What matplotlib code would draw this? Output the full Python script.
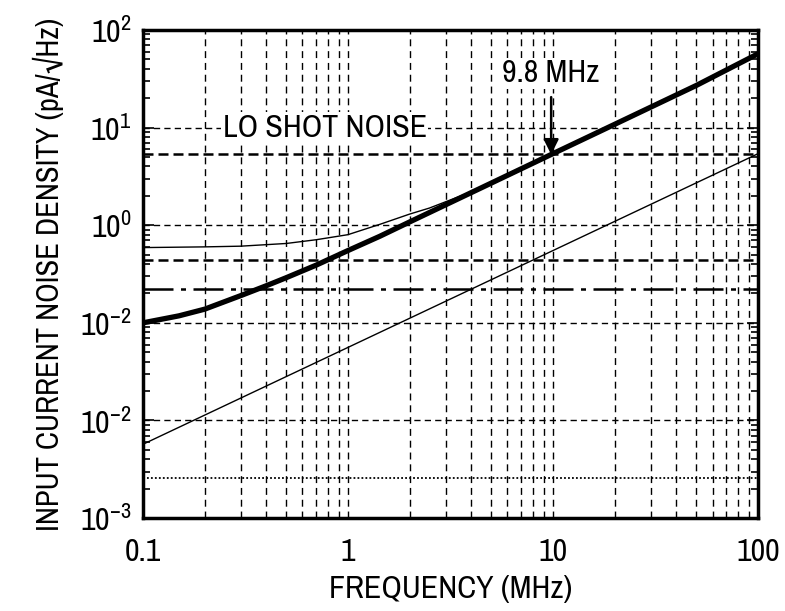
import matplotlib
matplotlib.use("Agg")
import matplotlib.pyplot as plt
from matplotlib.ticker import FixedLocator, LogLocator, NullFormatter, FixedFormatter
import numpy as np

# ---- data ----
freq_total = [0.1, 0.15, 0.2, 0.3, 0.4, 0.5, 0.7, 1.0, 1.43, 2.0, 5.0, 9.8, 20, 50, 100]
noise_total = [0.100, 0.118, 0.138, 0.19, 0.24, 0.29, 0.39, 0.55, 0.77, 1.08, 2.7, 5.3, 10.8, 27, 57]

freq_upper = [0.1, 0.2, 0.3, 0.5, 0.7, 1.0, 1.43, 2.0, 2.5, 3.0, 4.0]
noise_upper = [0.59, 0.60, 0.61, 0.65, 0.71, 0.80, 1.02, 1.30, 1.50, 1.74, 2.2]

freq_lower = [0.1, 1.0, 10, 100]
noise_lower = [0.0057, 0.056, 0.55, 5.4]

lo_shot_noise = 5.3
level_dashed = 0.44
level_dashdot = 0.22
level_dotted = 0.0026

marker_freq = 9.8

x_ticks = [0.1, 1, 10, 100]
x_labels = ["0.1", "1", "10", "100"]
y_ticks = [1e-3, 1e-2, 1e-1, 1e0, 1e1, 1e2]
y_labels = ["10$^{-3}$", "10$^{-2}$", "10$^{-2}$", "10$^{0}$", "10$^{1}$", "10$^{2}$"]

FONT = ["Archivo Narrow", "DejaVu Sans"]
plt.rcParams["font.family"] = FONT
plt.rcParams["mathtext.fontset"] = "custom"
plt.rcParams["mathtext.rm"] = "Archivo Narrow"
plt.rcParams["mathtext.it"] = "Archivo Narrow"
plt.rcParams["mathtext.default"] = "rm"

FS = 23

fig = plt.figure(figsize=(7.85, 6.11), dpi=100)
ax = fig.add_axes([0.182, 0.152, 0.7836, 0.799])

ax.set_xscale("log")
ax.set_yscale("log")
ax.set_xlim(0.1, 100)
ax.set_ylim(1e-3, 1e2)

ax.xaxis.set_major_locator(FixedLocator(x_ticks))
ax.xaxis.set_minor_locator(LogLocator(base=10, subs=np.arange(2, 10)))
ax.xaxis.set_minor_formatter(NullFormatter())
ax.xaxis.set_major_formatter(FixedFormatter(x_labels))
ax.yaxis.set_major_locator(FixedLocator(y_ticks))
ax.yaxis.set_major_formatter(FixedFormatter(y_labels))
ax.yaxis.set_minor_locator(LogLocator(base=10, subs=np.arange(2, 10)))
ax.yaxis.set_minor_formatter(NullFormatter())

ax.grid(True, which="both", axis="x", color="black", linestyle=(0, (5, 3.5)), linewidth=1.0)
ax.grid(True, which="major", axis="y", color="black", linestyle=(0, (4.5, 3)), linewidth=1.0)

# reference levels
ax.axhline(lo_shot_noise, color="black", linestyle=(0, (4, 2)), linewidth=1.8)
ax.axhline(level_dashed, color="black", linestyle=(0, (4, 2)), linewidth=1.8)
ax.axhline(level_dashdot, color="black", linestyle=(0, (12, 3, 2, 3)), linewidth=1.8)
ax.axhline(level_dotted, color="black", linestyle=(0, (1, 1.2)), linewidth=1.3)

# curves
ax.plot(freq_upper, noise_upper, color="black", linewidth=1.0)
ax.plot(freq_lower, noise_lower, color="black", linewidth=1.0)
ax.plot(freq_total, noise_total, color="black", linewidth=3.8, solid_capstyle="butt")

# annotations
ax.text(0.245, 10, "LO SHOT NOISE", fontsize=FS, ha="left", va="center",
        bbox=dict(facecolor="white", edgecolor="none", pad=1))
ax.annotate("", xy=(marker_freq, lo_shot_noise), xytext=(marker_freq, 20.5),
            arrowprops=dict(arrowstyle="-|>,head_length=0.9,head_width=0.45",
                            color="black", lw=1.8, shrinkA=0, shrinkB=0))
ax.text(marker_freq, 36, "9.8 MHz", fontsize=FS, ha="center", va="center",
        bbox=dict(facecolor="white", edgecolor="none", pad=1))

for s in ax.spines.values():
    s.set_linewidth(2.5)

ax.tick_params(axis="y", which="both", direction="in", left=True, right=True,
               labelsize=FS, pad=8)
ax.tick_params(axis="y", which="major", length=8, width=1.2)
ax.tick_params(axis="y", which="minor", length=5, width=1.2)
ax.tick_params(axis="x", which="both", direction="in", length=0, labelsize=FS, pad=14)

ax.set_xlabel("FREQUENCY (MHz)", fontsize=FS, labelpad=7)
ax.set_ylabel("INPUT CURRENT NOISE DENSITY (pA/\u221aHz)", fontsize=22, labelpad=12)

fig.savefig("out.png", dpi=100)
